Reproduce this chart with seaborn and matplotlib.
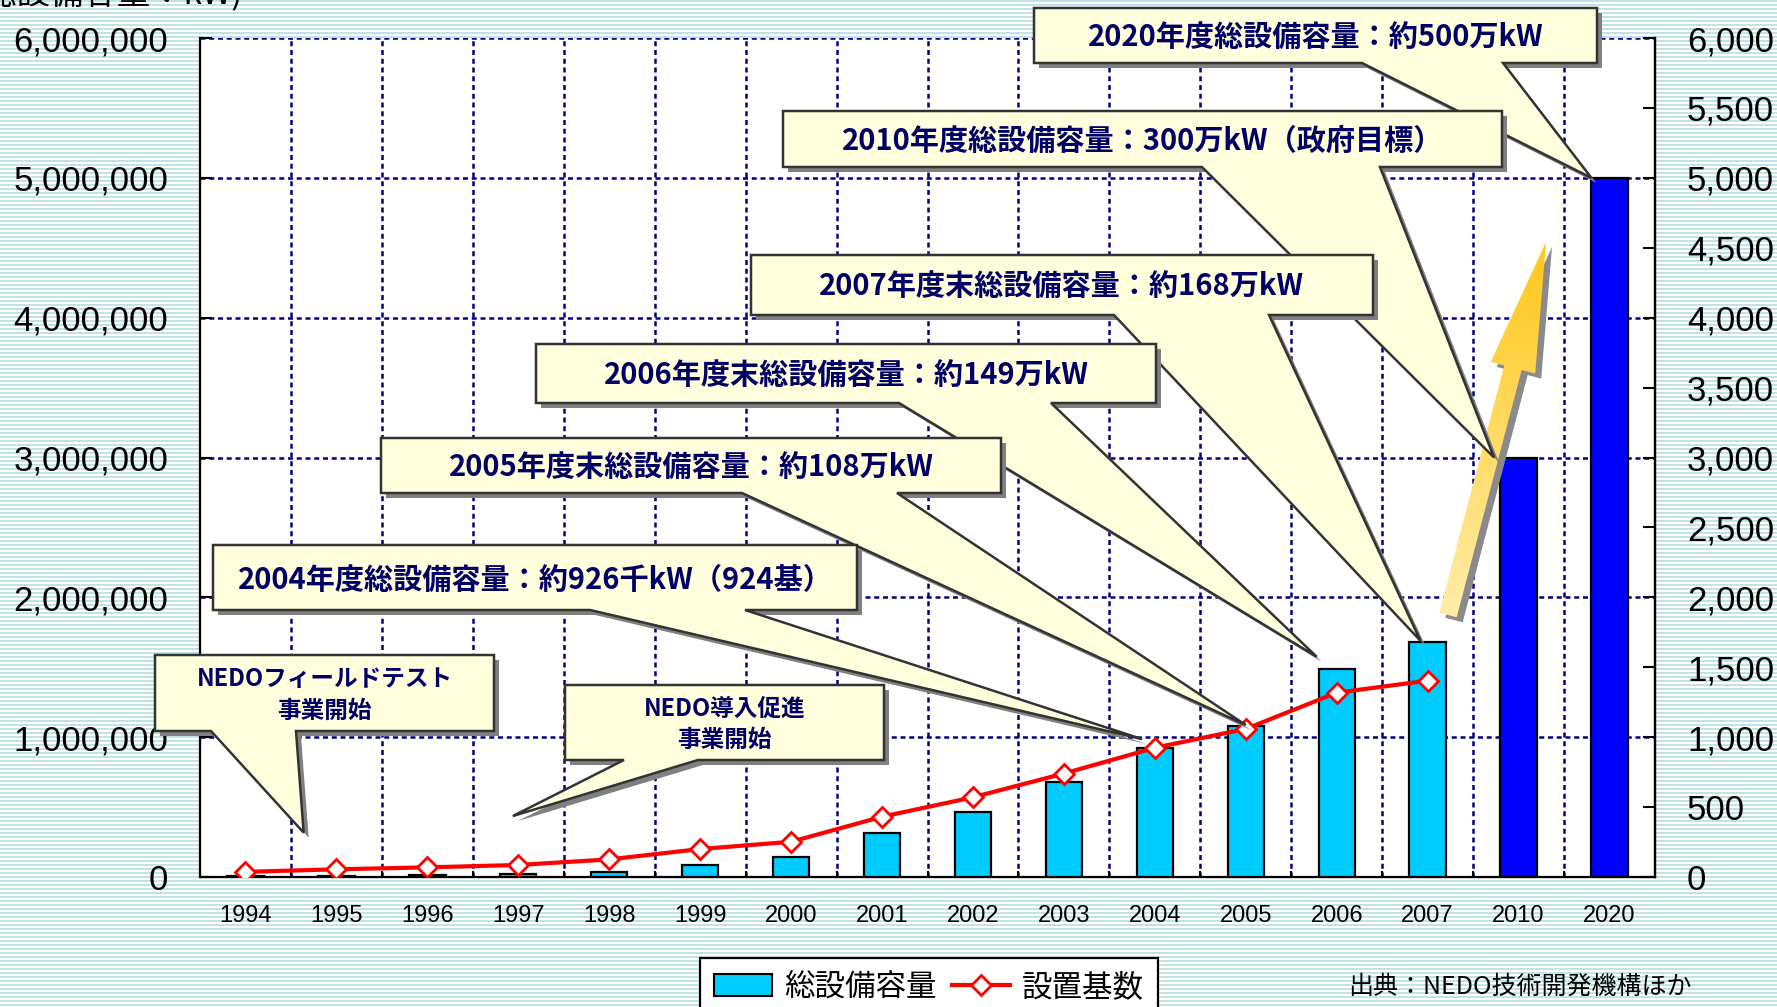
import numpy as np
import pandas as pd
import matplotlib
matplotlib.use("Agg")
import matplotlib.pyplot as plt
import seaborn as sns
from matplotlib.patches import Polygon, Patch
from matplotlib.lines import Line2D
from matplotlib.ticker import MultipleLocator, FuncFormatter
from matplotlib import font_manager

# ---------------- data ----------------
years = ["1994", "1995", "1996", "1997", "1998", "1999", "2000", "2001",
         "2002", "2003", "2004", "2005", "2006", "2007", "2010", "2020"]
capacity_kw = [10000, 10000, 14000, 21000, 38000, 83000, 144000, 313000,
               463000, 680000, 926000, 1080000, 1490000, 1680000, 3000000, 5000000]
kind = ["実績"] * 14 + ["目標"] * 2
unit_years = years[:14]
units = [37, 55, 69, 86, 126, 200, 252, 431, 570, 740, 924, 1059, 1318, 1404]

CJK = "Noto Sans CJK JP"
names = {f.name for f in font_manager.fontManager.ttflist}
if "Liberation Sans Narrow" in names:
    NARROW, NARROW_SIZE = "Liberation Sans Narrow", 19
elif "DejaVu Sans Condensed" in names:
    NARROW, NARROW_SIZE = "DejaVu Sans Condensed", 17
else:
    NARROW, NARROW_SIZE = "Liberation Sans", 17

plt.rcParams["font.family"] = ["Liberation Sans", CJK, "DejaVu Sans"]

W, H = 1777, 1007
fig = plt.figure(figsize=(W / 100, H / 100), dpi=100)

# striped backdrop
bg = fig.add_axes([0, 0, 1, 1], zorder=-10)
rows = np.arange(H)
teal = np.array([0.76, 0.89, 0.91])
white = np.array([1.0, 1.0, 1.0])
img = np.where(((rows % 4) < 2)[:, None], teal[None, :], white[None, :])[:, None, :]
bg.imshow(img, aspect="auto", interpolation="nearest", extent=(0, 1, 0, 1))
bg.set_xlim(0, 1); bg.set_ylim(0, 1)
bg.axis("off")

# ---------------- main axes ----------------
ax = fig.add_axes([200 / W, 1 - 877 / H, 1455 / W, 839 / H])
ax.set_facecolor("white")

df = pd.DataFrame({"年度": years, "総設備容量": capacity_kw, "区分": kind})
sns.barplot(data=df, x="年度", y="総設備容量", hue="区分",
            palette={"実績": "#00CCFF", "目標": "#0000FF"}, saturation=1,
            dodge=False, width=0.4, edgecolor="black", linewidth=1.6,
            legend=False, ax=ax, zorder=3)

grid_kw = dict(color="#000080", linestyle=(0, (2.0, 1.5)), linewidth=1.8)
ax.set_xlim(-0.5, 15.5)
ax.set_ylim(0, 6_000_000)
ax.set_xlabel(""); ax.set_ylabel("")
ax.yaxis.set_major_locator(MultipleLocator(1_000_000))
ax.yaxis.set_major_formatter(FuncFormatter(lambda v, p: f"{int(round(v)):,}"))
ax.tick_params(axis="y", direction="in", length=8.5, width=1.5, pad=23,
               labelsize=25, colors="black")
ax.set_xticks(range(len(years)))
ax.set_xticklabels(years, fontfamily=NARROW, fontsize=NARROW_SIZE)
ax.tick_params(axis="x", which="major", length=0, pad=20)
ax.set_xticks(np.arange(0.5, len(years) - 1, 1.0), minor=True)
ax.tick_params(axis="x", which="minor", direction="in", length=4.5, width=1.5)
ax.grid(False)
ax.grid(axis="x", which="minor", **grid_kw)
ax.grid(axis="y", which="major", **grid_kw)
ax.set_axisbelow(True)
ax.spines["top"].set_visible(False)
for s in ("left", "bottom", "right"):
    ax.spines[s].set_linewidth(1.6)
    ax.spines[s].set_color("black")

# ---------------- secondary axis: unit counts ----------------
ax2 = ax.twinx()
sns.lineplot(x=np.arange(len(unit_years)), y=units, ax=ax2, color="#FF0000",
             linewidth=3.0, marker="D", markersize=10, markerfacecolor="white",
             markeredgecolor="#FF0000", markeredgewidth=2.0, zorder=6)
ax2.set_ylim(0, 6000)
ax2.set_ylabel("")
ax2.yaxis.set_major_locator(MultipleLocator(500))
ax2.yaxis.set_major_formatter(FuncFormatter(lambda v, p: f"{int(round(v)):,}"))
ax2.tick_params(axis="y", direction="in", length=8.5, width=1.5, pad=23,
                labelsize=25, colors="black")
ax2.spines["top"].set_visible(False)
ax2.spines["right"].set_linewidth(1.6)
ax.set_xlim(-0.5, 15.5)

# ---------------- overlay for callouts ----------------
ov = fig.add_axes([0, 0, 1, 1], zorder=20)
ov.set_xlim(0, W); ov.set_ylim(H, 0)
ov.axis("off")


def to_px(axis, x, y):
    d = axis.transData.transform((x, y))
    return ov.transData.inverted().transform(d)


# rising arrow with gradient fill
tail = np.array([1448.0, 615.0]); head = np.array([1546.0, 242.0])
u = (head - tail) / np.linalg.norm(head - tail)
n = np.array([-u[1], u[0]])
hb = head - 130 * u
arrow_pts = np.array([tail + 9 * n, hb + 9 * n, hb + 23 * n, head,
                      hb - 23 * n, hb - 9 * n, tail - 9 * n])
ov.add_patch(Polygon(arrow_pts + np.array([6, 5]), closed=True,
                     facecolor="#8a8a8a", edgecolor="none", zorder=2))
arrow_patch = Polygon(arrow_pts, closed=True, facecolor="none",
                      edgecolor="none", zorder=3)
ov.add_patch(arrow_patch)
g = np.linspace(0, 1, 256)[:, None]
c_top = np.array([1.0, 0.78, 0.10]); c_bot = np.array([1.0, 0.93, 0.66])
grad = (c_top[None, None, :] * (1 - g[..., None]) + c_bot[None, None, :] * g[..., None])
xs, ys = arrow_pts[:, 0], arrow_pts[:, 1]
im = ov.imshow(grad, extent=(xs.min(), xs.max(), ys.max(), ys.min()),
               aspect="auto", zorder=3, interpolation="bilinear")
im.set_clip_path(arrow_patch)
ov.set_xlim(0, W); ov.set_ylim(H, 0)

FILL = "#FFFFDD"
EDGE = "#333333"
NAVY = "#000066"

callouts = [
    ("2020年度総設備容量：約500万kW", (1034, 8, 1597, 63), (1362, 1503),
     (ax, 15 - 0.2, capacity_kw[15]), 21),
    ("2010年度総設備容量：300万kW（政府目標）", (783, 111, 1502, 167), (1202, 1380),
     (ax, 14 - 0.27, capacity_kw[14]), 21),
    ("2007年度末総設備容量：約168万kW", (751, 255, 1373, 315), (1114, 1269),
     (ax, 13 - 0.08, capacity_kw[13] + 10000), 21),
    ("2006年度末総設備容量：約149万kW", (536, 344, 1156, 403), (899, 1051),
     (ax, 12 - 0.22, capacity_kw[12] + 85000), 21),
    ("2005年度末総設備容量：約108万kW", (381, 438, 1001, 493), (742, 897),
     (ax, 11.0, capacity_kw[11] + 7000), 21),
    ("2004年度総設備容量：約926千kW（924基）", (213, 545, 857, 610), (590, 745),
     (ax, 10 - 0.14, capacity_kw[10] + 60000), 21),
    ("NEDOフィールドテスト\n事業開始", (155, 655, 494, 731), (211, 296),
     (ax, 0.64, 317000), 17),
    ("NEDO導入促進\n事業開始", (565, 685, 884, 760), (624, 698),
     (ax, 2.94, 436000), 17),
]

z = 10
for text, (L, T, R, B), (b1, b2), (axis, tx, ty), fs in callouts:
    tip = to_px(axis, tx, ty)
    pts = np.array([[L, T], [R, T], [R, B], [b2, B], tip, [b1, B], [L, B]])
    ov.add_patch(Polygon(pts + np.array([5, 5]), closed=True, facecolor="#808080",
                         edgecolor="none", zorder=z))
    ov.add_patch(Polygon(pts, closed=True, facecolor=FILL, edgecolor=EDGE,
                         linewidth=1.8, joinstyle="miter", zorder=z + 1))
    cy = (T + B) / 2 + 2
    ov.text((L + R) / 2, cy, text, ha="center", va="center", fontsize=fs,
            fontweight="bold", color=NAVY, family=[CJK, "DejaVu Sans"],
            linespacing=1.4, zorder=z + 2)
    z += 3

# ---------------- figure texts ----------------
fig.text(243 / W, 1 - 3 / H, "(総設備容量：kW)", ha="right", va="baseline",
         fontsize=24, family=[CJK, "DejaVu Sans"], color="black")
fig.text(1348 / W, 1 - 987 / H, "出典：NEDO技術開発機構ほか", ha="left",
         va="center", fontsize=18, family=[CJK, "DejaVu Sans"], color="black")

handles = [
    Patch(facecolor="#00CCFF", edgecolor="black", linewidth=1.5, label="総設備容量"),
    Line2D([], [], color="#FF0000", linewidth=3.0, marker="D", markersize=10,
           markerfacecolor="white", markeredgecolor="#FF0000",
           markeredgewidth=2.0, label="設置基数"),
]
leg = fig.legend(handles=handles, loc="upper center",
                 bbox_to_anchor=(929 / W, 1 - 958 / H), ncol=2, frameon=True,
                 fancybox=False, framealpha=1, edgecolor="black",
                 borderaxespad=0, borderpad=0.45, handlelength=1.9,
                 handleheight=0.7, handletextpad=0.4, columnspacing=0.5,
                 prop={"family": [CJK, "DejaVu Sans"], "size": 22})
leg.get_frame().set_linewidth(1.6)
leg.set_zorder(30)

fig.savefig("out.png", dpi=100)
